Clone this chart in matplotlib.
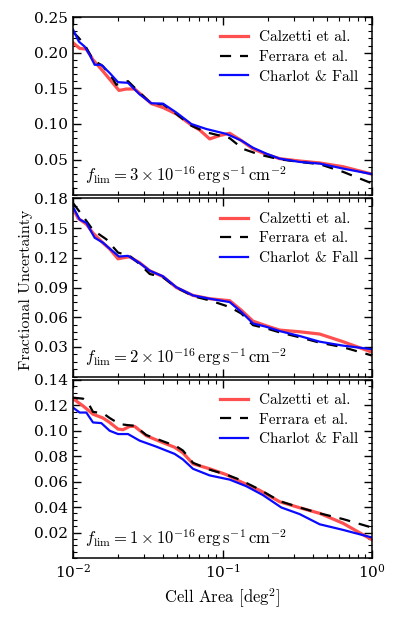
import matplotlib
matplotlib.use('Agg')
import matplotlib.pyplot as plt
from matplotlib.ticker import AutoMinorLocator

plt.rcParams['font.family'] = 'serif'
plt.rcParams['font.serif'] = ['DejaVu Serif']
plt.rcParams['mathtext.fontset'] = 'cm'
plt.rcParams['axes.unicode_minus'] = False

labels = ['Calzetti et al.', 'Ferrara et al.', 'Charlot & Fall']
flims = [3, 2, 1]

# panel 1 (f_lim = 3e-16)
a1_cal = [0.0100, 0.01108, 0.01228, 0.01361, 0.01587, 0.01804, 0.02031, 0.02274, 0.02585, 0.02865,
          0.03342, 0.03999, 0.04911, 0.06187, 0.07036, 0.08205, 0.09575, 0.1117, 0.1337, 0.1600,
          0.1964, 0.2412, 0.3282, 0.4467, 0.6397, 1.0]
u1_cal = [0.214, 0.206, 0.205, 0.190, 0.174, 0.160, 0.147, 0.149, 0.149, 0.141,
          0.1285, 0.123, 0.114, 0.0985, 0.0915, 0.079, 0.0837, 0.0869, 0.0767, 0.065,
          0.0573, 0.0513, 0.048, 0.0453, 0.040, 0.0296]
a1_fer = [0.0100, 0.01080, 0.01197, 0.01361, 0.01587, 0.01852, 0.01950, 0.02333, 0.02792, 0.03342,
          0.03999, 0.04911, 0.06187, 0.07795, 0.09575, 0.1117, 0.1371, 0.1772, 0.2412, 0.3282,
          0.4467, 0.6397, 1.0]
u1_fer = [0.229, 0.222, 0.211, 0.190, 0.181, 0.163, 0.155, 0.160, 0.144, 0.1285,
          0.1276, 0.114, 0.0975, 0.0883, 0.0837, 0.080, 0.065, 0.0569, 0.0504, 0.0467,
          0.0435, 0.0328, 0.0166]
a1_cf = [0.0100, 0.01096, 0.01197, 0.01293, 0.01396, 0.01547, 0.01759, 0.02000, 0.02333, 0.02792,
         0.03342, 0.03999, 0.04911, 0.06187, 0.07795, 0.1061, 0.1337, 0.1600, 0.1964, 0.2412,
         0.3282, 0.4467, 0.6397, 1.0]
u1_cf = [0.2325, 0.2154, 0.2085, 0.197, 0.183, 0.183, 0.1715, 0.1586, 0.1577, 0.1415,
         0.129, 0.1285, 0.116, 0.0999, 0.0929, 0.086, 0.0767, 0.0666, 0.0583, 0.0513,
         0.0467, 0.0444, 0.0374, 0.0296]

# panel 2 (f_lim = 2e-16)
a2_cal = [0.0100, 0.01080, 0.01228, 0.01361, 0.01587, 0.01759, 0.02000, 0.02160, 0.02393, 0.02792,
          0.03257, 0.03999, 0.04911, 0.06347, 0.08205, 0.1117, 0.1337, 0.1600, 0.1964, 0.2412,
          0.3282, 0.4467, 0.6397, 1.0]
u2_cal = [0.170, 0.160, 0.154, 0.145, 0.135, 0.129, 0.119, 0.120, 0.121, 0.115,
          0.107, 0.101, 0.090, 0.082, 0.0787, 0.0767, 0.067, 0.056, 0.0513, 0.047,
          0.0453, 0.043, 0.0353, 0.0247]
a2_fer = [0.0100, 0.01167, 0.01361, 0.01671, 0.02000, 0.02393, 0.02792, 0.03257, 0.03999, 0.04911,
          0.06347, 0.08205, 0.1117, 0.1337, 0.1600, 0.1964, 0.2412, 0.3282, 0.4467, 0.6397, 1.0]
u2_fer = [0.1753, 0.162, 0.148, 0.1387, 0.1253, 0.122, 0.1137, 0.1037, 0.1003, 0.090,
          0.0813, 0.077, 0.0703, 0.0637, 0.052, 0.0487, 0.0447, 0.0397, 0.0343, 0.0297, 0.0213]
a2_cf = [0.0100, 0.01108, 0.01228, 0.01396, 0.01587, 0.01759, 0.02031, 0.02333, 0.02792, 0.03257,
         0.03999, 0.04911, 0.06347, 0.08205, 0.1117, 0.1337, 0.1600, 0.1964, 0.2412, 0.3282,
         0.4467, 0.6397, 1.0]
u2_cf = [0.1713, 0.1587, 0.1553, 0.1403, 0.1353, 0.1293, 0.1213, 0.122, 0.1147, 0.107,
         0.1013, 0.0903, 0.082, 0.0787, 0.0753, 0.0653, 0.0537, 0.0503, 0.046, 0.041,
         0.0353, 0.0313, 0.0277]

# panel 3 (f_lim = 1e-16)
a3_cal = [0.0100, 0.01167, 0.01361, 0.01587, 0.01759, 0.02000, 0.02160, 0.02393, 0.02585, 0.03094,
          0.03800, 0.04786, 0.05441, 0.06347, 0.08205, 0.1061, 0.1302, 0.1772, 0.2412, 0.3282,
          0.4467, 0.6397, 1.0]
u3_cal = [0.1252, 0.1195, 0.113, 0.110, 0.1065, 0.1013, 0.1008, 0.1034, 0.1034, 0.0961,
          0.0917, 0.087, 0.0826, 0.074, 0.0701, 0.0655, 0.0603, 0.0532, 0.0442, 0.0395,
          0.0351, 0.0273, 0.0143]
a3_fer = [0.0100, 0.01167, 0.01260, 0.01361, 0.01587, 0.01759, 0.02052, 0.02333, 0.02585, 0.03094,
          0.03800, 0.04911, 0.05441, 0.06347, 0.08205, 0.1061, 0.1302, 0.1772, 0.2412, 0.3282,
          0.4467, 0.6397, 1.0]
u3_fer = [0.126, 0.1252, 0.122, 0.1148, 0.1138, 0.110, 0.1052, 0.1044, 0.1039, 0.0966,
          0.0927, 0.0878, 0.0844, 0.0748, 0.0694, 0.0655, 0.0616, 0.0538, 0.0447, 0.0397,
          0.0351, 0.0306, 0.0239]
a3_cf = [0.0100, 0.01108, 0.01228, 0.01361, 0.01547, 0.01759, 0.02000, 0.02333, 0.02792, 0.03609,
         0.04786, 0.05441, 0.06347, 0.08205, 0.1117, 0.1443, 0.1866, 0.2474, 0.3282, 0.4467,
         0.6397, 1.0]
u3_cf = [0.1182, 0.1143, 0.1143, 0.1065, 0.106, 0.100, 0.0974, 0.0974, 0.0922, 0.0875,
         0.0818, 0.0774, 0.0701, 0.0649, 0.0616, 0.0564, 0.0494, 0.0397, 0.0345, 0.0265,
         0.0221, 0.0161]

ylims = [0.25, 0.18, 0.14]
ysteps = [0.05, 0.03, 0.02]

panels = [
    [(a1_cal, u1_cal), (a1_fer, u1_fer), (a1_cf, u1_cf)],
    [(a2_cal, u2_cal), (a2_fer, u2_fer), (a2_cf, u2_cf)],
    [(a3_cal, u3_cal), (a3_fer, u3_fer), (a3_cf, u3_cf)],
]

fig, axes = plt.subplots(3, 1, figsize=(3.98, 6.17), dpi=100, sharex=True)
fig.subplots_adjust(left=0.1834, right=0.9347, top=0.9724, bottom=0.0956, hspace=0.018)

for i, ax in enumerate(axes):
    (ac, uc), (af, uf), (ab, ub) = panels[i]
    ax.plot(ac, uc, color='#ff4f4f', lw=2.3, label=labels[0])
    ax.plot(af, uf, color='k', lw=1.6, ls='--', dashes=(5, 4), label=labels[1])
    ax.plot(ab, ub, color='#0a0aff', lw=1.6, label=labels[2])
    ax.set_xscale('log')
    ax.set_xlim(1e-2, 1)
    ax.set_ylim(0, ylims[i])
    ax.set_yticks([ysteps[i] * k for k in range(1, int(round(ylims[i] / ysteps[i])) + 1)])
    ax.yaxis.set_minor_locator(AutoMinorLocator())
    ax.tick_params(which='both', direction='in', top=True, right=True, labelsize=11)
    ax.tick_params(which='major', length=6, width=1)
    ax.tick_params(which='minor', length=3, width=0.8)
    for s in ax.spines.values():
        s.set_linewidth(1.1)
    ax.legend(loc='upper right', frameon=False, prop={'family': 'cmr10', 'size': 11},
              handlelength=1.85, handletextpad=0.7, labelspacing=0.38, borderaxespad=0.5)
    ax.text(0.04, 0.05,
            r'$f_{\rm lim} = %d\times10^{-16}\,{\rm erg\,s^{-1}\,cm^{-2}}$' % flims[i],
            transform=ax.transAxes, fontsize=12, ha='left', va='bottom')

axes[-1].set_xlabel(r'Cell Area [$\rm deg^2$]', family='cmr10', fontsize=12)
fig.text(0.065, 0.53, 'Fractional Uncertainty', family='cmr10', fontsize=11.5,
         rotation=90, ha='center', va='center')

fig.savefig('out.png', dpi=100)
